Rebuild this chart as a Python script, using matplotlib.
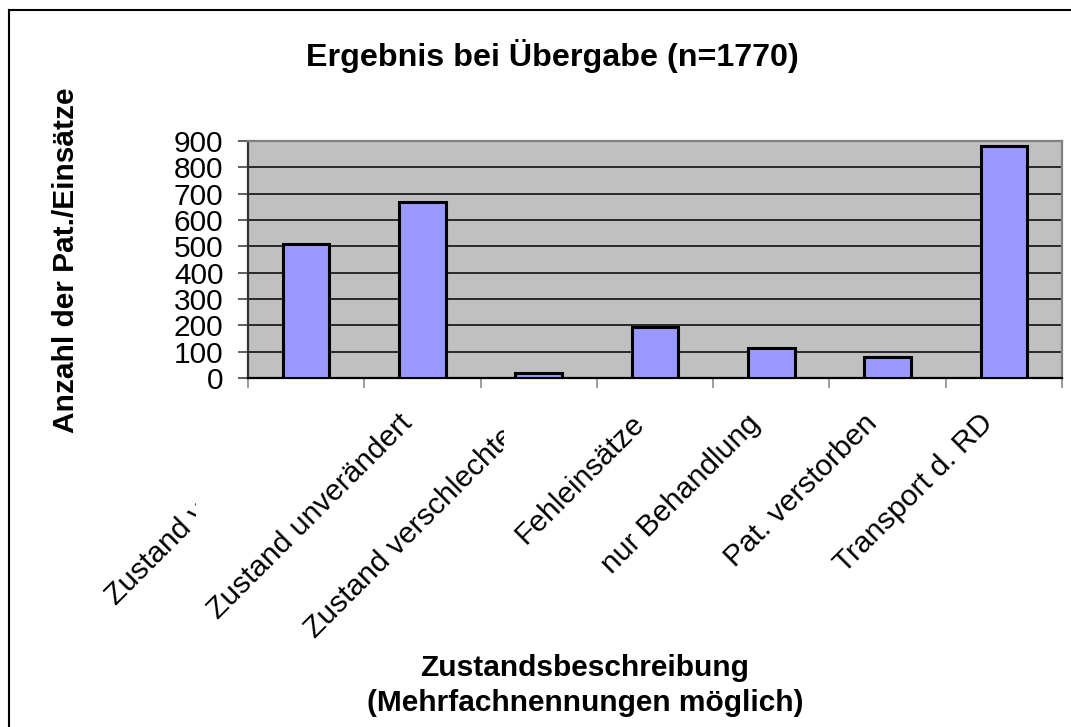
import matplotlib
matplotlib.use("Agg")
import matplotlib.pyplot as plt
from matplotlib.transforms import ScaledTranslation, Bbox, TransformedBbox, IdentityTransform, blended_transform_factory
from matplotlib.lines import Line2D

categories = ["Zustand verbessert", "Zustand unverändert", "Zustand verschlechtert",
              "Fehleinsätze", "nur Behandlung", "Pat. verstorben", "Transport d. RD"]
values = [510, 670, 18, 195, 115, 80, 880]
yticks = [0, 100, 200, 300, 400, 500, 600, 700, 800, 900]

title = "Ergebnis bei Übergabe (n=1770)"
ylabel = "Anzahl der Pat./Einsätze"
xlabel1 = "Zustandsbeschreibung"
xlabel2 = "(Mehrfachnennungen möglich)"

plt.rcParams['font.family'] = ['Liberation Sans', 'DejaVu Sans']
FS = 21.5
W, H = 1071, 727
fig = plt.figure(figsize=(W / 100, H / 100), dpi=100)
fig.patch.set_facecolor('white')

def fx(px):
    return px / W

def fy(py):
    return 1 - py / H

L, R, T, B = 248, 1062, 141, 378
ax = fig.add_axes([fx(L), fy(B), (R - L) / W, (B - T) / H])
ax.set_facecolor('#C0C0C0')
x = list(range(len(categories)))
ax.bar(x, values, width=0.4, color='#9999FF', edgecolor='black', linewidth=2.2, zorder=3)
ax.set_xlim(-0.5, len(categories) - 0.5)
ax.set_ylim(0, 900)
ax.set_yticks(yticks)
ax.set_yticklabels([str(v) for v in yticks], fontsize=FS)
ax.yaxis.grid(True, color='black', linewidth=1.1, zorder=1)
ax.set_axisbelow(True)
ax.tick_params(axis='y', length=7.2, width=1.1, color='#333333', pad=10.5)
ax.set_xticks([i + 0.5 for i in range(-1, len(categories))])
ax.set_xticklabels([])
ax.tick_params(axis='x', length=7.2, width=1.1, color='#808080')
for s in ['top', 'right']:
    ax.spines[s].set_color('#808080')
    ax.spines[s].set_linewidth(1.6)
ax.spines['left'].set_color('#333333')
ax.spines['left'].set_linewidth(1.6)
ax.spines['bottom'].set_color('black')
ax.spines['bottom'].set_linewidth(1.6)

# category labels, rotated
trans = blended_transform_factory(ax.transData, ax.transAxes)
clips = {0: 196, 2: 504}
for i, c in enumerate(categories):
    off = ScaledTranslation(-15 / 100, -41 / 100, fig.dpi_scale_trans)
    t = ax.text(i, 0, c, transform=trans + off, rotation=45, rotation_mode='anchor',
                ha='right', va='center', fontsize=FS, clip_on=False)
    if i in clips:
        t.set_clip_on(True)
        bb = Bbox([[0, 0], [clips[i], H]])
        t.set_clip_box(TransformedBbox(bb, IdentityTransform()))

fig.text(fx(552), fy(56), title, ha='center', va='center', fontsize=23.2, fontweight='bold')
fig.text(fx(66), fy(260), ylabel, ha='center', va='center', rotation=90, fontsize=FS, fontweight='bold')
fig.text(fx(585), fy(668), xlabel1, ha='center', va='center', fontsize=FS, fontweight='bold')
fig.text(fx(585), fy(703), xlabel2, ha='center', va='center', fontsize=FS, fontweight='bold')

# figure border (top and left)
fig.add_artist(Line2D([fx(9), 1.0], [fy(10), fy(10)], color='black', linewidth=1.5, transform=fig.transFigure))
fig.add_artist(Line2D([fx(9), fx(9)], [fy(10), 0], color='black', linewidth=1.5, transform=fig.transFigure))

fig.savefig("out.png", dpi=100)
